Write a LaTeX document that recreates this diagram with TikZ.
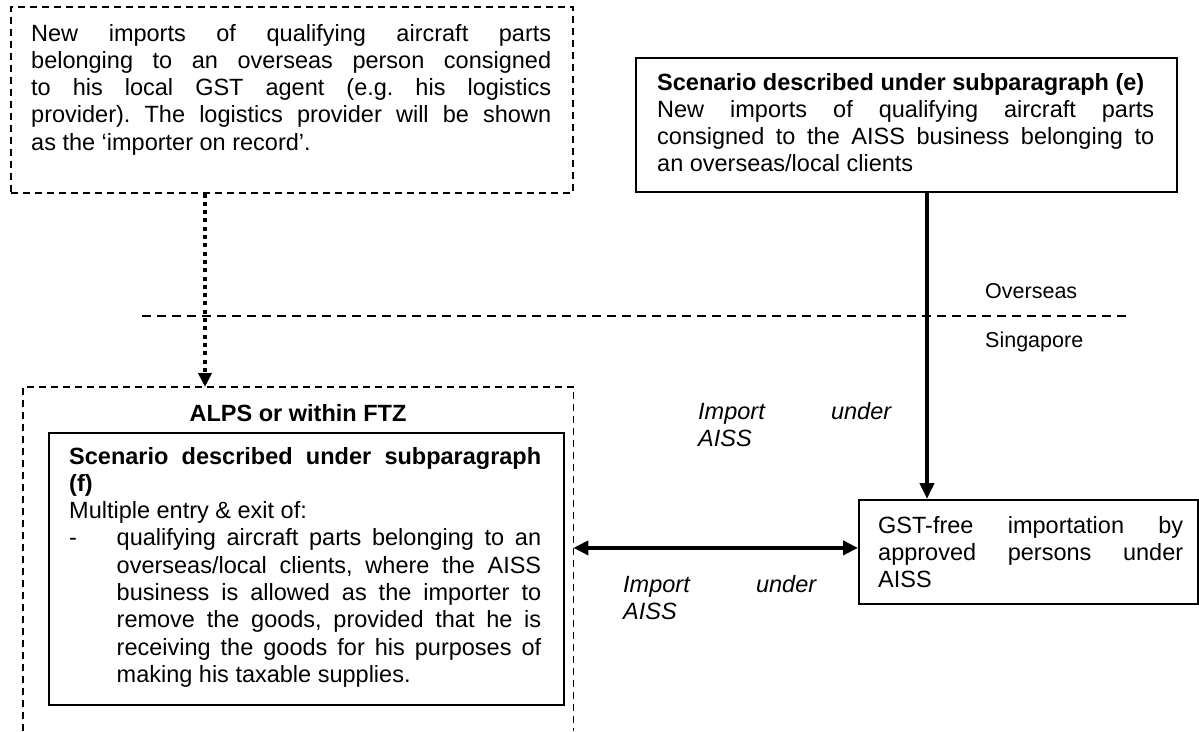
\documentclass[tikz,border=0pt]{standalone}
\usepackage{fontspec}
\setmainfont{Liberation Sans}
\usetikzlibrary{arrows.meta}
\frenchspacing

% type sizes
\newcommand\bodyfont{\fontsize{23.5pt}{27.3pt}\selectfont}
\newcommand\sidefont{\fontsize{21.5pt}{26pt}\selectfont}

% one justified line, and one last (ragged) line of a paragraph
\newcommand\jl[1]{\hbox to \hsize{\spaceskip=0.278em plus 1fil\relax #1}}
\newcommand\el[1]{\hbox{#1}}
% lines of a hanging list item
\newlength\itemind \setlength\itemind{47.5pt}
\newcommand\firstli[1]{\hbox to \hsize{\hbox to \itemind{-\hfil}\hbox to \dimexpr\hsize-\itemind\relax{\spaceskip=0.278em plus 1fil\relax #1}}}
\newcommand\jli[1]{\hbox to \hsize{\hskip\itemind\hbox to \dimexpr\hsize-\itemind\relax{\spaceskip=0.278em plus 1fil\relax #1}}}
\newcommand\eli[1]{\hbox{\hskip\itemind #1}}

\tikzset{
  dbox/.style={draw, line width=1.5pt, dash pattern=on 7pt off 5pt},
  sbox/.style={draw, line width=1.8pt},
  frame/.style={anchor=north west, inner sep=0pt},
  txt/.style={anchor=base west, inner sep=0pt, font=\bodyfont},
  lbl/.style={anchor=base west, inner sep=0pt, font=\bodyfont\itshape},
  side/.style={anchor=base west, inner sep=0pt, font=\sidefont},
  divider/.style={line width=2.2pt, dash pattern=on 9pt off 6pt},
  dotarrow/.style={line width=4.5pt, dash pattern=on 4pt off 4.3pt, -{Triangle[width=13pt,length=14pt]}},
  solidarrow/.style={line width=4.5pt, -{Triangle[width=14pt,length=16pt]}},
  dblarrow/.style={line width=4.5pt, {Triangle[width=14pt,length=15pt]}-{Triangle[width=14pt,length=15pt]}},
}

\begin{document}
\begin{tikzpicture}[x=1pt,y=-1pt]
\useasboundingbox[fill=white] (0,0) rectangle (1199,731);

% goods consigned to a local GST agent
\node[frame, dbox, minimum width=562pt, minimum height=186pt] (boxA) at (10,6) {};
\node[txt] (txtA) at (31,41) {\vtop{\hsize=520pt
  \jl{New imports of qualifying aircraft parts}
  \jl{belonging to an overseas person consigned}
  \jl{to his local GST agent (e.g. his logistics}
  \jl{provider). The logistics provider will be shown}
  \el{as the ‘importer on record’.}}};

% scenario (e)
\node[frame, sbox, minimum width=541pt, minimum height=134pt] (boxB) at (635,57) {};
\node[txt] (txtB) at (657,90) {\vtop{\hsize=497pt
  \el{\bfseries Scenario described under subparagraph (e)}
  \jl{New imports of qualifying aircraft parts}
  \jl{consigned to the AISS business belonging to}
  \el{an overseas/local clients}}};

% overseas / Singapore boundary
\coordinate (divL) at (142,316);
\coordinate (divR) at (1129,316);
\draw[divider] (divL) -- (divR);
\node[side] (ovs) at (985,298) {Overseas};
\node[side] (sgp) at (985,347) {Singapore};

% ALPS / FTZ area, open at the bottom
\node[frame, minimum width=550pt, minimum height=344pt] (alps) at (23,387) {};
\draw[dbox] (alps.south west) -- (alps.north west) -- (alps.north east) -- (alps.south east);
\node[anchor=base, inner sep=0pt, font=\bodyfont\bfseries] (alpsT) at (298,421) {ALPS or within FTZ};

% scenario (f)
\node[frame, sbox, minimum width=515pt, minimum height=272pt] (boxE) at (48,432) {};
\node[txt] (txtE) at (69,464) {\vtop{\hsize=472pt
  \jl{\bfseries Scenario described under subparagraph}
  \el{\bfseries (f)}
  \el{Multiple entry \& exit of:}
  \firstli{qualifying aircraft parts belonging to an}
  \jli{overseas/local clients, where the AISS}
  \jli{business is allowed as the importer to}
  \jli{remove the goods, provided that he is}
  \jli{receiving the goods for his purposes of}
  \eli{making his taxable supplies.}}};

% GST-free importation
\node[frame, sbox, minimum width=339pt, minimum height=104pt] (boxC) at (858,499) {};
\node[txt] (txtC) at (878,533) {\vtop{\hsize=305pt
  \jl{GST-free importation by}
  \jl{approved persons under}
  \el{AISS}}};

% arrow labels
\node[lbl] (impU) at (698,419) {\vtop{\hsize=193pt \jl{Import under}\el{AISS}}};
\node[lbl] (impL) at (623,592) {\vtop{\hsize=193pt \jl{Import under}\el{AISS}}};

% connectors
\coordinate (dotx) at (205,0);
\draw[dotarrow] (boxA.south -| dotx) -- (alps.north -| dotx);
\coordinate (vx) at (927,0);
\draw[solidarrow] (boxB.south -| vx) -- (boxC.north -| vx);
\draw[dblarrow] ([yshift=4pt]boxC.west -| alps.east) -- ([yshift=4pt]boxC.west);
\end{tikzpicture}
\end{document}
